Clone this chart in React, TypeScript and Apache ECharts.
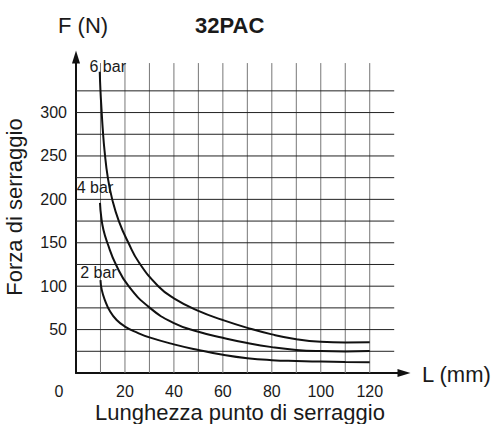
import React, { useEffect, useRef } from 'react';
import * as echarts from 'echarts';

// Data: [L (mm), F (N)]
const sixBar: [number, number][] = [
  [9.7, 347], [10, 325], [10.4, 305], [10.9, 282], [11.7, 255], [13, 225], [14.8, 200],
  [17.5, 175], [21.4, 150], [25.8, 127], [33.6, 100], [40, 86], [50, 71.5], [60, 61],
  [70, 52], [80, 44.5], [90, 39], [100, 36], [110, 35.2], [120, 35.3],
];
const fourBar: [number, number][] = [
  [9.8, 196], [10.3, 180], [11.2, 165], [12.8, 150], [16.3, 125], [21.5, 100],
  [30.2, 75], [40, 57.5], [50, 47.5], [60, 40.5], [70, 34.5], [80, 29.8],
  [90, 26.6], [100, 25.2], [110, 24.8], [120, 25.3],
];
const twoBar: [number, number][] = [
  [10, 107], [10.5, 96], [11.8, 84], [13.9, 71], [16.6, 61], [20, 53.5], [25, 46.5],
  [30, 41], [40, 33], [50, 26.5], [60, 21], [70, 17], [80, 14.8],
  [90, 13.8], [100, 13.2], [110, 12.7], [120, 12.3],
];
const curveNames = ['6 bar', '4 bar', '2 bar'];

const xGridValues = [10, 20, 30, 40, 50, 60, 70, 80, 90, 100, 110, 120];
const yGridValues = [25, 50, 75, 100, 125, 150, 175, 200, 225, 250, 275, 300, 325];
const xTickLabels = [0, 20, 40, 60, 80, 100, 120];
const yTickLabels = [50, 100, 150, 200, 250, 300];
const gridTopValue = 357;
const gridRightValue = 130;

const FONT = "'Liberation Sans', Arial, Helvetica, sans-serif";
const NARROW = "'Liberation Sans Narrow', 'Arial Narrow', 'Liberation Sans', Arial, sans-serif";
const INK = '#1a1a1a';

export default function App() {
  const ref = useRef<HTMLDivElement>(null);

  useEffect(() => {
    if (!ref.current) return;
    const chart = echarts.init(ref.current, null, { renderer: 'svg' });

    const vGrid = xGridValues.map((x) => ({
      type: 'line',
      data: [[x, 0], [x, gridTopValue]],
      symbol: 'none',
      silent: true,
      z: 1,
      lineStyle: { color: '#777', width: 1 },
    }));
    const hGrid = yGridValues.map((y) => ({
      type: 'line',
      data: [[0, y], [gridRightValue, y]],
      symbol: 'none',
      silent: true,
      z: 1,
      lineStyle: { color: '#222', width: 1 },
    }));

    const curve = (name: string, pts: [number, number][], offset: [number, number]) => ({
      type: 'line',
      name,
      z: 3,
      smooth: 0.5,
      showSymbol: true,
      symbol: 'circle',
      symbolSize: 0.01,
      itemStyle: { color: 'rgba(0,0,0,0)' },
      lineStyle: { color: '#111', width: 2 },
      data: pts.map((p, i) =>
        i === 0
          ? {
              value: p,
              label: {
                show: true,
                position: 'inside',
                offset,
                formatter: name,
                color: INK,
                fontSize: 16,
                fontFamily: NARROW,
              },
            }
          : { value: p, label: { show: false } }
      ),
    });

    chart.setOption({
      animation: false,
      grid: { left: 76, top: 57, width: 328, height: 316 },
      xAxis: {
        type: 'value',
        min: 0,
        max: 134,
        interval: 10,
        splitLine: { show: false },
        axisTick: { show: false },
        axisLine: {
          lineStyle: { color: '#111', width: 2 },
          symbol: ['none', 'triangle'],
          symbolSize: [8, 13],
        },
        axisLabel: {
          margin: 10,
          fontSize: 16,
          fontFamily: FONT,
          color: INK,
          formatter: (v: number) =>
            xTickLabels.includes(v) ? (v === 0 ? '{z|0}' : String(v)) : '',
          rich: { z: { padding: [0, 34, 0, 0], fontSize: 16, fontFamily: FONT, color: INK } },
        },
      },
      yAxis: {
        type: 'value',
        min: 0,
        max: 364,
        interval: 25,
        splitLine: { show: false },
        axisTick: { show: false },
        axisLine: {
          lineStyle: { color: '#111', width: 2 },
          symbol: ['none', 'triangle'],
          symbolSize: [8, 13],
        },
        axisLabel: {
          margin: 9,
          fontSize: 16,
          fontFamily: FONT,
          color: INK,
          padding: [0, 0, 12, 0],
          formatter: (v: number) => (yTickLabels.includes(v) ? String(v) : ''),
        },
      },
      graphic: [
        {
          type: 'text',
          x: 58,
          y: 25,
          style: { text: 'F (N)', fontSize: 22, fontFamily: FONT, fill: INK, align: 'left', verticalAlign: 'middle' },
        },
        {
          type: 'text',
          x: 195,
          y: 25,
          style: { text: '32PAC', fontSize: 22, fontWeight: 'bold', fontFamily: FONT, fill: INK, align: 'left', verticalAlign: 'middle' },
        },
        {
          type: 'text',
          x: 422,
          y: 374,
          style: { text: 'L (mm)', fontSize: 22, fontFamily: FONT, fill: INK, align: 'left', verticalAlign: 'middle' },
        },
        {
          type: 'text',
          x: 95,
          y: 412,
          style: { text: 'Lunghezza punto di serraggio', fontSize: 22, fontFamily: FONT, fill: INK, align: 'left', verticalAlign: 'middle' },
        },
        {
          type: 'text',
          x: 14,
          y: 207,
          rotation: Math.PI / 2,
          style: { text: 'Forza di serraggio', fontSize: 22, fontFamily: FONT, fill: INK, align: 'center', verticalAlign: 'middle' },
        },
      ],
      series: [
        ...vGrid,
        ...hGrid,
        curve(curveNames[0], sixBar, [8, -5]),
        curve(curveNames[1], fourBar, [-5, -15]),
        curve(curveNames[2], twoBar, [-2, -8]),
      ],
    });

    return () => chart.dispose();
  }, []);

  return (
    <div
      ref={ref}
      style={{ position: 'fixed', left: 0, top: 0, width: 493, height: 424, background: '#fff' }}
    />
  );
}
